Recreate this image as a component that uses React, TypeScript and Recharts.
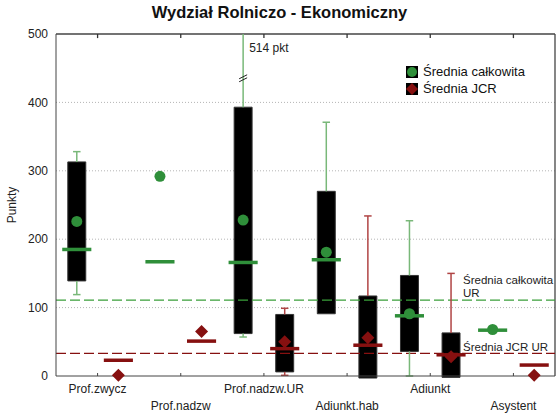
import {
  ComposedChart,
  XAxis,
  YAxis,
  CartesianGrid,
  Scatter,
  ReferenceArea,
  ReferenceLine,
  ReferenceDot,
  Legend,
} from "recharts";

const CATEGORIES = [
  "Prof.zwycz",
  "Prof.nadzw",
  "Prof.nadzw.UR",
  "Adiunkt.hab",
  "Adiunkt",
  "Asystent",
];

// Średnia całkowita (green): whisker low, box q1, box q3, whisker high, median, mean
const TOTAL_LOW = [119, null, 57, 91, 0, null];
const TOTAL_Q1 = [139, null, 62, 91, 36, null];
const TOTAL_Q3 = [313, null, 393, 270, 147, null];
const TOTAL_HIGH = [328, null, 514, 371, 227, null];
const TOTAL_MEDIAN = [185, 167, 166, 170, 88, 67];
const TOTAL_MEAN = [226, 292, 228, 181, 91, 68];

// Średnia JCR (red)
const JCR_LOW = [null, null, 1, 0, 0, null];
const JCR_Q1 = [null, null, 6, -3, -2, null];
const JCR_Q3 = [null, null, 90, 117, 63, null];
const JCR_HIGH = [null, null, 99, 234, 150, null];
const JCR_MEDIAN = [23, 51, 40, 45, 31, 16];
const JCR_MEAN = [1, 65, 50, 56, 28, 1];

const UR_TOTAL = 111;
const UR_JCR = 33;
const Y_MAX = 500;
const Y_TICKS = [0, 100, 200, 300, 400, 500];

const GREEN = "#2f8f3a";
const GREEN_LIGHT = "#79b879";
const RED = "#861010";
const RED_LIGHT = "#b04444";
const AXIS = "#444";

const BOX_HALF = 0.108;
const MED_HALF = 0.175;
const CAP_HALF = 0.045;

type Series = {
  key: string;
  offset: number;
  low: (number | null)[];
  q1: (number | null)[];
  q3: (number | null)[];
  high: (number | null)[];
  median: number[];
  color: string;
  light: string;
};

const SERIES: Series[] = [
  { key: "t", offset: 0.25, low: TOTAL_LOW, q1: TOTAL_Q1, q3: TOTAL_Q3, high: TOTAL_HIGH, median: TOTAL_MEDIAN, color: GREEN, light: GREEN_LIGHT },
  { key: "j", offset: 0.75, low: JCR_LOW, q1: JCR_Q1, q3: JCR_Q3, high: JCR_HIGH, median: JCR_MEDIAN, color: RED, light: RED_LIGHT },
];

const totalPoints = TOTAL_MEAN.map((y, i) => ({ x: i + 0.25, y }));
const jcrPoints = JCR_MEAN.map((y, i) => ({ x: i + 0.75, y }));

const Dot = (p: any) => <circle cx={p.cx} cy={p.cy} r={5.5} fill={GREEN} />;
const Diamond = (p: any) => (
  <path
    d={`M${p.cx},${p.cy - 6.5}L${p.cx + 6.5},${p.cy}L${p.cx},${p.cy + 6.5}L${p.cx - 6.5},${p.cy}Z`}
    fill={RED}
  />
);

const XTick = (p: any) => (
  <g>
    <line x1={p.x} y1={p.y} x2={p.x} y2={p.y - 3} stroke={AXIS} />
    <text
      x={p.x}
      y={p.y + (p.index % 2 ? 34 : 17)}
      textAnchor="middle"
      fontSize={12}
      fill="#222"
    >
      {CATEGORIES[p.index]}
    </text>
  </g>
);

const LegendContent = () => (
  <div style={{ fontSize: 13, lineHeight: "17px", color: "#111" }}>
    <div style={{ display: "flex", alignItems: "center" }}>
      <svg width={14} height={14}>
        <rect x={1} y={1} width={12} height={12} fill="#000" />
        <circle cx={7} cy={7} r={5} fill={GREEN} />
      </svg>
      <span style={{ marginLeft: 4 }}>Średnia całkowita</span>
    </div>
    <div style={{ display: "flex", alignItems: "center" }}>
      <svg width={14} height={14}>
        <rect x={1} y={1} width={12} height={12} fill="#000" />
        <path d="M7,1L13,7L7,13L1,7Z" fill={RED} />
      </svg>
      <span style={{ marginLeft: 4 }}>Średnia JCR</span>
    </div>
  </div>
);

const BreakMark = (p: any) => (
  <g stroke="#222" strokeWidth={1}>
    <line x1={p.cx - 4} y1={p.cy + 1} x2={p.cx + 4} y2={p.cy - 3} />
    <line x1={p.cx - 4} y1={p.cy + 4} x2={p.cx + 4} y2={p.cy} />
  </g>
);

export default function App() {
  const xTicks = CATEGORIES.map((_, i) => i + 0.5);
  const n = CATEGORIES.length;
  return (
    <div
      style={{
        position: "absolute",
        left: 0,
        top: 0,
        width: 559,
        height: 416,
        background: "#fff",
        fontFamily: "'Liberation Sans', Arial, sans-serif",
      }}
    >
      <div
        style={{
          position: "absolute",
          top: 3,
          left: 0,
          width: 559,
          textAlign: "center",
          fontWeight: "bold",
          fontSize: 16.5,
          color: "#111",
        }}
      >
        Wydział Rolniczo - Ekonomiczny
      </div>
      <ComposedChart
        width={559}
        height={416}
        margin={{ top: 34, right: 4, bottom: 0, left: 0 }}
      >
        <CartesianGrid
          vertical={false}
          horizontalValues={Y_TICKS.slice(1, -1)}
          stroke="#b5b5b5"
          strokeDasharray="1 2"
        />
        {/* solid top and right border of the plot */}
        <CartesianGrid
          horizontalValues={[Y_MAX]}
          verticalValues={[n]}
          stroke={AXIS}
          strokeWidth={1.3}
        />
        <XAxis
          type="number"
          dataKey="x"
          domain={[0, n]}
          ticks={xTicks}
          height={40}
          tickLine={false}
          tickSize={0}
          tickMargin={0}
          axisLine={{ stroke: AXIS }}
          tick={<XTick />}
          interval={0}
        />
        <YAxis
          type="number"
          domain={[0, Y_MAX]}
          ticks={Y_TICKS}
          width={56}
          tickLine={false}
          tickSize={0}
          tickMargin={8}
          axisLine={{ stroke: AXIS }}
          tick={{ fontSize: 12, fill: "#222" }}
          label={(props: any) => {
            const vb = props.viewBox;
            const cx = vb.x + 12;
            const cy = vb.y + vb.height / 2;
            return (
              <text
                x={cx}
                y={cy}
                transform={`rotate(-90, ${cx}, ${cy})`}
                textAnchor="middle"
                dominantBaseline="central"
                fontSize={12}
                fill="#222"
              >
                Punkty
              </text>
            );
          }}
        />

        <ReferenceLine
          y={UR_TOTAL}
          stroke="#3a9f3a"
          strokeWidth={1.3}
          strokeDasharray="10 4"
          label={(props: any) => {
            const vb = props.viewBox;
            const x = vb.x + vb.width - 92;
            return (
              <text fontSize={11.5} fill="#222">
                <tspan x={x} y={vb.y - 16}>Średnia całkowita</tspan>
                <tspan x={x} y={vb.y - 3}>UR</tspan>
              </text>
            );
          }}
        />
        <ReferenceLine
          y={UR_JCR}
          stroke={RED}
          strokeWidth={1.3}
          strokeDasharray="10 4"
          label={(props: any) => {
            const vb = props.viewBox;
            return (
              <text x={vb.x + vb.width - 92} y={vb.y - 2} fontSize={11.5} fill="#222">
                Średnia JCR UR
              </text>
            );
          }}
        />

        {SERIES.map((s) =>
          CATEGORIES.map((_, i) => {
            const x = i + s.offset;
            const lo = s.low[i];
            const q1 = s.q1[i];
            const q3 = s.q3[i];
            const hi = s.high[i];
            const els: any[] = [];
            if (lo != null && q1 != null && hi != null && q3 != null) {
              const top = Math.min(hi, Y_MAX);
              if (q1 > lo) {
                els.push(
                  <ReferenceLine key={`${s.key}wl${i}`} segment={[{ x, y: lo }, { x, y: q1 }]} stroke={s.light} strokeWidth={1.5} ifOverflow="visible" />,
                  <ReferenceLine key={`${s.key}cl${i}`} segment={[{ x: x - CAP_HALF, y: lo }, { x: x + CAP_HALF, y: lo }]} stroke={s.light} strokeWidth={1.5} ifOverflow="visible" />
                );
              }
              els.push(
                <ReferenceLine key={`${s.key}wh${i}`} segment={[{ x, y: q3 }, { x, y: top }]} stroke={s.light} strokeWidth={1.5} ifOverflow="visible" />
              );
              if (hi <= Y_MAX) {
                els.push(
                  <ReferenceLine key={`${s.key}ch${i}`} segment={[{ x: x - CAP_HALF, y: hi }, { x: x + CAP_HALF, y: hi }]} stroke={s.light} strokeWidth={1.5} ifOverflow="visible" />
                );
              }
              els.push(
                <ReferenceArea key={`${s.key}b${i}`} x1={x - BOX_HALF} x2={x + BOX_HALF} y1={q1} y2={q3} fill="#000" fillOpacity={1} stroke="#333" ifOverflow="visible" />
              );
            }
            els.push(
              <ReferenceLine key={`${s.key}m${i}`} segment={[{ x: x - MED_HALF, y: s.median[i] }, { x: x + MED_HALF, y: s.median[i] }]} stroke={s.color} strokeWidth={3.5} ifOverflow="visible" />
            );
            return els;
          })
        )}

        {xTicks.map((t) => (
          <ReferenceLine
            key={`tt${t}`}
            segment={[{ x: t, y: Y_MAX }, { x: t, y: Y_MAX - 6 }]}
            stroke="#333"
            strokeWidth={1.3}
            ifOverflow="visible"
          />
        ))}

        <ReferenceDot
          x={2.25}
          y={436}
          r={0}
          shape={<BreakMark />}
          ifOverflow="visible"
        />
        <ReferenceDot
          x={2.25}
          y={Y_MAX}
          r={0}
          ifOverflow="visible"
          label={(props: any) => {
            const vb = props.viewBox;
            return (
              <text x={vb.x + 6} y={vb.y + 18} fontSize={12} fill="#222">
                514 pkt
              </text>
            );
          }}
        />

        <Scatter
          name="Średnia całkowita"
          data={totalPoints}
          dataKey="y"
          shape={<Dot />}
          isAnimationActive={false}
        />
        <Scatter
          name="Średnia JCR"
          data={jcrPoints}
          dataKey="y"
          shape={<Diamond />}
          isAnimationActive={false}
        />

        <Legend
          layout="vertical"
          align="center"
          verticalAlign="middle"
          content={<LegendContent />}
          wrapperStyle={{ top: 63, left: 405, width: 150 }}
        />
      </ComposedChart>
    </div>
  );
}
